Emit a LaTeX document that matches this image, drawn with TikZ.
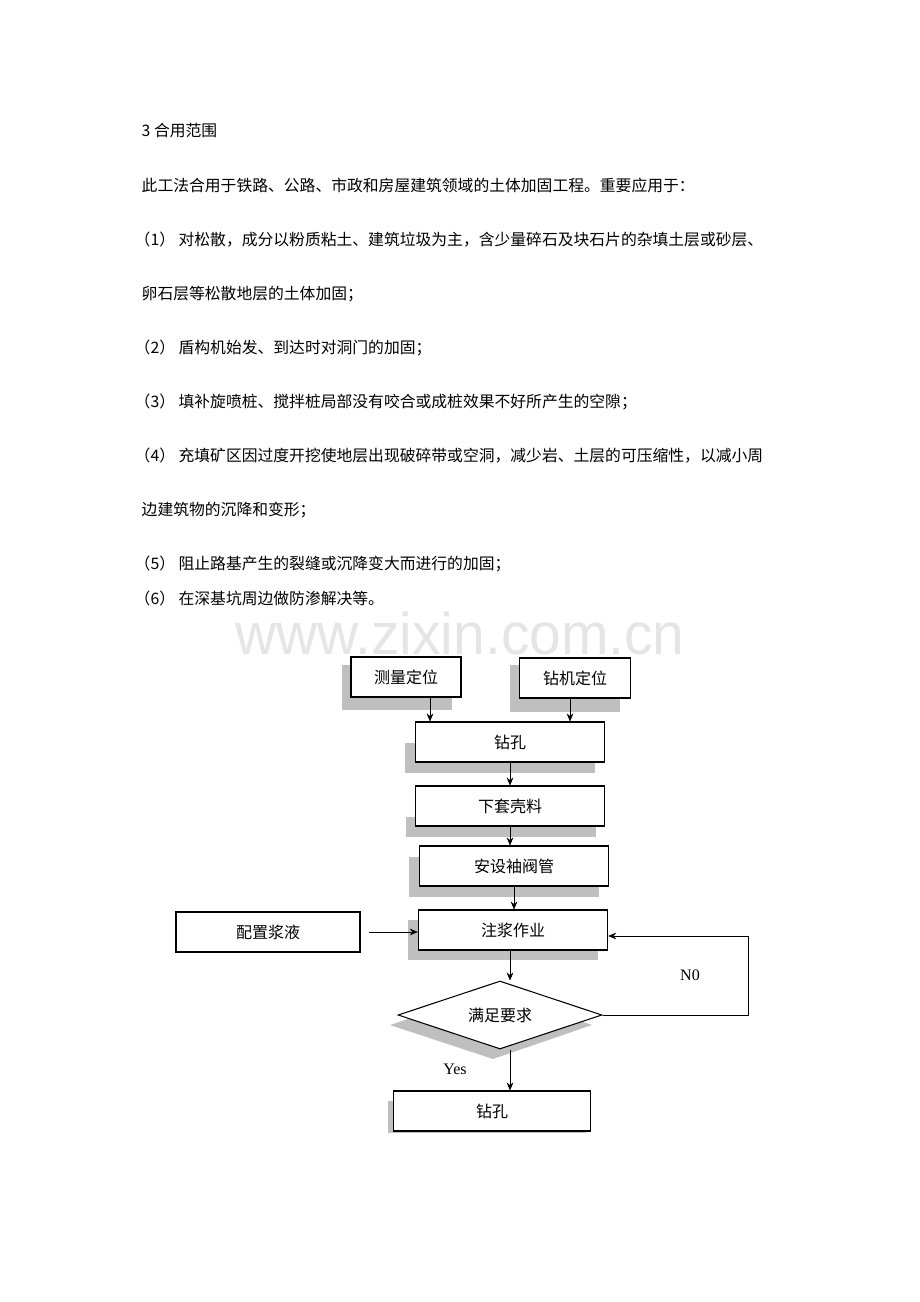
\documentclass[tikz,border=0pt]{standalone}
\usepackage{fontspec}
\usepackage{graphicx}
\setmainfont{Noto Sans CJK SC}
\newfontfamily\wm{Liberation Sans}
\newfontfamily\ser{Liberation Serif}
\usetikzlibrary{shapes.geometric,arrows.meta}
\begin{document}
\begin{tikzpicture}[x=0.75pt,y=-0.75pt,
 txt/.style={anchor=west,font=\fontsize{11.85pt}{13pt}\selectfont},
 box/.style={draw,thick,fill=white,font=\fontsize{12pt}{14pt}\selectfont,inner sep=0},
 shd/.style={fill=black!25},
 arr/.style={-{Stealth[length=6pt,width=5pt]}}]
\useasboundingbox (0,0) rectangle (920,1302);
\node[txt] (t0) at (137,131) {3 合用范围};
\node[txt] (t1) at (137,185) {此工法合用于铁路、公路、市政和房屋建筑领域的土体加固工程。重要应用于：};
\node[txt] (t2) at (130,240) {（1） 对松散，成分以粉质粘土、建筑垃圾为主，含少量碎石及块石片的杂填土层或砂层、};
\node[txt] (t3) at (137,294) {卵石层等松散地层的土体加固；};
\node[txt] (t4) at (130,348) {（2） 盾构机始发、到达时对洞门的加固；};
\node[txt] (t5) at (130,402) {（3） 填补旋喷桩、搅拌桩局部没有咬合或成桩效果不好所产生的空隙；};
\node[txt] (t6) at (130,456) {（4） 充填矿区因过度开挖使地层出现破碎带或空洞，减少岩、土层的可压缩性，以减小周};
\node[txt] (t7) at (137,510) {边建筑物的沉降和变形；};
\node[txt] (t8) at (130,564) {（5） 阻止路基产生的裂缝或沉降变大而进行的加固；};
\node[txt] (t9) at (130,598) {（6） 在深基坑周边做防渗解决等。};
\node[text=black!10,inner sep=0] (wm) at (460,633) {\resizebox{337pt}{32pt}{\wm www.zixin.com.cn}};
% shadows
\fill[shd] (342,665) rectangle (452,710);
\fill[shd] (510,665) rectangle (620,712);
\fill[shd] (405,743) rectangle (595,773);
\fill[shd] (406,817) rectangle (596,837);
\fill[shd] (409,857) rectangle (599,897);
\fill[shd] (408,920) rectangle (598,960);
\fill[shd] (388,1101) rectangle (586,1133);
\fill[shd] (390,1025) -- (493,991) -- (592,1025) -- (493,1059) -- cycle;
% boxes
\node[box,minimum width=110pt*0.75,minimum height=30pt] (a) at (406,677) {测量定位};
\node[box,minimum width=111pt*0.75,minimum height=30pt] (b) at (575,678) {钻机定位};
\node[box,minimum width=142pt,minimum height=30pt] (c) at (510,742) {钻孔};
\node[box,minimum width=142pt,minimum height=30pt] (d) at (510,806) {下套壳料};
\node[box,minimum width=142pt,minimum height=30pt] (e) at (514,866) {安设袖阀管};
\node[box,minimum width=142pt,minimum height=30pt] (f) at (513,930) {注浆作业};
\node[box,minimum width=138pt,minimum height=30pt] (g) at (268,932) {配置浆液};
\node[box,diamond,aspect=3,minimum width=153pt,minimum height=51pt] (h) at (500,1015) {满足要求};
\node[box,minimum width=148pt,minimum height=30pt] (i) at (492,1111) {钻孔};
% connectors
\draw[arr] (a.south) ++(24,0) coordinate (a1) -- (a1 |- c.north);
\draw[arr] (b.south) ++(-5,0) coordinate (b1) -- (b1 |- c.north);
\draw[arr] (c) -- (d);
\draw[arr] (d.south) -- (d.south |- e.north);
\draw[arr] (e.south) -- (e.south |- f.north);
\draw[arr] (g.east) ++(8,0) coordinate (g1) -- (f.west |- g1);
\draw[arr] (f.south) ++(-3,0) coordinate (f1) -- (f1 |- h.north);
\coordinate (r1) at (748,1015);
\coordinate (r2) at (748,936);
\draw[arr] (h.east) -- (r1) -- (r2) -- (f.east |- r2);
\draw[arr] (h.south) ++(10,0) coordinate (h1) -- (h1 |- i.north);
\node[font=\ser\fontsize{12pt}{14pt}\selectfont] (no) at (690,975) {N0};
\node[font=\ser\fontsize{12pt}{14pt}\selectfont] (yes) at (455,1069) {Yes};
\end{tikzpicture}
\end{document}
